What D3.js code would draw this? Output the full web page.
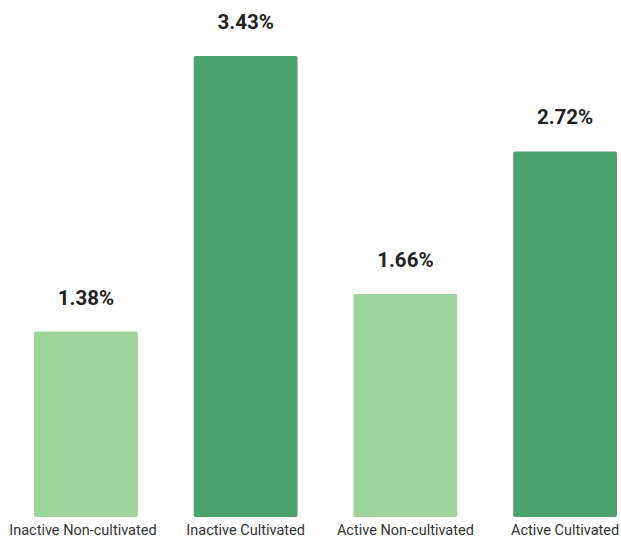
<!DOCTYPE html>
<html>
<head>
<meta charset="utf-8">
<script src="https://cdn.jsdelivr.net/npm/d3@7"></script>
<style>
  body { margin: 0; background: #fff; }
  svg { display: block; font-family: Roboto, "Noto Sans", sans-serif; }
</style>
</head>
<body>
<div id="chart"></div>
<script>
// chart values
const categories = ['Inactive Non-cultivated', 'Inactive Cultivated', 'Active Non-cultivated', 'Active Cultivated'];
const values = [1.38, 3.43, 1.66, 2.72];
const barColors = ['#9cd49b', '#4ba46e', '#9cd49b', '#4ba46e'];

const margin = { top: 56, right: 4, bottom: 24, left: 34 };
const width = 621 - margin.left - margin.right;
const height = 541 - margin.top - margin.bottom;

const svg = d3.select('#chart').append('svg')
    .attr('width', width + margin.left + margin.right)
    .attr('height', height + margin.top + margin.bottom);

const plot = svg.append('g')
    .attr('transform', `translate(${margin.left},${margin.top})`);

const xScale = d3.scaleBand()
    .domain(categories)
    .range([0, width])
    .paddingInner(0.35)
    .paddingOuter(0);

const yScale = d3.scaleLinear()
    .domain([0, 3.43])
    .range([height, 0]);

// bars
plot.selectAll('rect.bar')
    .data(values)
    .join('rect').classed('bar', true)
    .attr('x', (d, i) => xScale(categories[i]))
    .attr('y', d => yScale(d))
    .attr('width', xScale.bandwidth())
    .attr('height', d => height - yScale(d))
    .attr('rx', 2)
    .attr('fill', (d, i) => barColors[i]);

// value labels
plot.selectAll('text.value')
    .data(values)
    .join('text').classed('value', true)
    .attr('x', (d, i) => xScale(categories[i]) + xScale.bandwidth() / 2)
    .attr('y', d => yScale(d) - 27)
    .attr('text-anchor', 'middle')
    .attr('font-size', '20.5px')
    .attr('font-weight', 'bold')
    .attr('fill', '#222')
    .text(d => d.toFixed(2) + '%');

// category axis
const xAxis = plot.append('g')
    .attr('transform', `translate(0,${height})`)
    .call(d3.axisBottom(xScale).tickSize(0).tickPadding(8));
xAxis.select('.domain').remove();
xAxis.selectAll('text')
    .attr('font-size', '14.5px')
    .attr('font-family', 'Roboto, "Noto Sans", sans-serif')
    .attr('fill', '#333');
// first label sits a little left of its bar in the reference
xAxis.selectAll('.tick text').filter((d, i) => i === 0).attr('dx', -3);
</script>
</body>
</html>
